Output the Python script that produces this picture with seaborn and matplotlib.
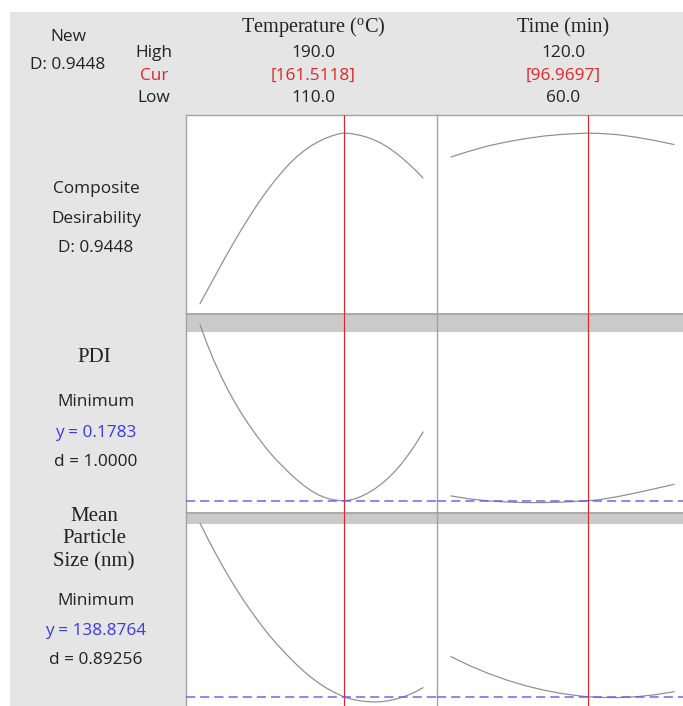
import matplotlib
matplotlib.use("Agg")
import matplotlib.pyplot as plt
from matplotlib.patches import Rectangle
from matplotlib.lines import Line2D
import seaborn as sns

# ---------------- data ----------------
factor_names = ["Temperature ($\\mathregular{^o}$C)", "Time (min)"]
factor_high = [190.0, 120.0]
factor_cur = [161.5118, 96.9697]
factor_low = [110.0, 60.0]

composite_d = 0.9448
pdi_y, pdi_d = 0.1783, 1.0000
size_y, size_d = 138.8764, 0.89256

# response traces along temperature (time held at its current setting)
temp_grid = [110, 112.5, 115, 117.5, 120, 122.5, 125, 127.5, 130, 132.5, 135,
             137.5, 140, 142.5, 145, 147.5, 150, 152.5, 155, 157.5, 160, 161.5118,
             163.25, 165, 167.5, 170, 172.5, 175, 177.5, 180, 182.5, 185, 187.5, 190]
desir_vs_temp = [0.425, 0.464, 0.503, 0.542, 0.580, 0.617, 0.653, 0.687, 0.720,
                 0.751, 0.780, 0.807, 0.832, 0.855, 0.875, 0.892, 0.907, 0.919,
                 0.929, 0.937, 0.943, 0.9448, 0.9442, 0.942, 0.938, 0.932, 0.924,
                 0.914, 0.901, 0.886, 0.869, 0.850, 0.830, 0.808]
pdi_vs_temp = [0.462, 0.4316, 0.404, 0.3795, 0.357, 0.3367, 0.318, 0.301, 0.285,
               0.270, 0.256, 0.2436, 0.232, 0.221, 0.211, 0.2019, 0.194, 0.1877,
               0.183, 0.1800, 0.1786, 0.1783, 0.1790, 0.1805, 0.1845, 0.190,
               0.1968, 0.205, 0.2147, 0.226, 0.2391, 0.254, 0.2707, 0.289]
size_vs_temp = [312.5, 298.6, 285.3, 272.6, 260.4, 248.9, 238.0, 227.7, 218.0,
                208.6, 199.8, 191.7, 184.2, 176.9, 170.1, 163.7, 157.9, 152.7,
                148.1, 144.2, 140.8, 138.8764, 137.3, 136.0, 134.7, 134.0, 133.6,
                133.9, 134.8, 136.3, 138.3, 140.9, 144.1, 147.9]

# response traces along time (temperature held at its current setting)
time_grid = [60, 65, 70, 75, 80, 85, 90, 95, 96.9697, 100, 105, 110, 115, 120]
desir_vs_time = [0.872, 0.890, 0.906, 0.918, 0.928, 0.936, 0.941, 0.944, 0.9448,
                 0.944, 0.940, 0.932, 0.922, 0.910]
pdi_vs_time = [0.186, 0.1812, 0.1780, 0.1762, 0.1752, 0.1752, 0.1760, 0.1776,
               0.1783, 0.1800, 0.1850, 0.1912, 0.1978, 0.2047]
size_vs_time = [178.9, 170.0, 162.2, 155.5, 149.9, 145.4, 141.9, 139.5, 138.8764,
                138.2, 138.0, 138.9, 140.9, 143.9]

# ---------------- style ----------------
sns.set_theme(style="white")
plt.rcParams["font.family"] = ["Open Sans", "DejaVu Sans"]
plt.rcParams["mathtext.fontset"] = "custom"
plt.rcParams["mathtext.rm"] = "Liberation Serif"

W, H = 683, 706
BG = "#E5E5E5"
TXT = "#222222"
RED = "#E0262A"
BLUE = "#3A3AE8"
DASH = "#5C5CF5"
CURVE = "#8C8C8C"
FRAME = "#A3A3A3"
BAND = "#CACACA"

fig = plt.figure(figsize=(W / 100, H / 100), dpi=100)
fig.patch.set_facecolor("white")


def fx(px):
    return px / W


def fy(py):
    return 1 - py / H


fig.add_artist(Rectangle((fx(10), 0), 1, fy(12), transform=fig.transFigure,
                         facecolor=BG, edgecolor="none", zorder=0))

SANS = dict(family=["Open Sans", "DejaVu Sans"], size=12.4, color=TXT)
SERIF = dict(family=["Liberation Serif", "DejaVu Serif"], size=15, color=TXT)


def label(x, y, s, **kw):
    props = dict(SANS)
    props.update(kw)
    fig.text(fx(x), fy(y), s, ha="center", va="baseline", **props)


# ---------------- header ----------------
label(68, 40.7, "New")
label(68, 69, f"D: {composite_d:.4f}")
label(154, 56.7, "High")
label(154, 80, "Cur", color=RED)
label(154, 102.3, "Low")

col_centers = [313, 563]
for cx, name, hi, cur, lo in zip(col_centers, factor_names, factor_high,
                                 factor_cur, factor_low):
    hdr = dict(SERIF)
    hdr["size"] = 14.6
    label(cx, 32, name, **hdr)
    label(cx, 56.7, f"{hi:.1f}")
    label(cx, 80, f"[{cur:.4f}]", color=RED)
    label(cx, 102.3, f"{lo:.1f}")

# ---------------- row labels ----------------
LX = 96
label(LX, 192.7, "Composite")
label(LX, 222.7, "Desirability")
label(LX, 252.3, f"D: {composite_d:.4f}")

label(LX - 2, 361.7, "PDI", **SERIF)
label(LX, 406, "Minimum")
label(LX, 436.7, f"y = {pdi_y:.4f}", color=BLUE)
label(LX, 465.7, f"d = {pdi_d:.4f}")

label(LX - 2, 520.7, "Mean", **SERIF)
label(LX - 2, 542.7, "Particle", **SERIF)
label(LX - 2, 566.7, "Size (nm)", **SERIF)
label(LX, 605, "Minimum")
label(LX, 635, f"y = {size_y:.4f}", color=BLUE)
label(LX, 664, f"d = {size_d:.5f}")

# ---------------- panels ----------------
col_px = [(186, 437), (437, 688)]
row_px = [(115, 313), (313, 512), (512, 712)]
band_px = [None, 332, 524]
xlims = [(105, 195), (56.25, 123.75)]
ylims = [(0.3969, 1.0), (0.1601, 0.4806), (123.58, 323.58)]

grids = [temp_grid, time_grid]
traces = [[desir_vs_temp, desir_vs_time],
          [pdi_vs_temp, pdi_vs_time],
          [size_vs_temp, size_vs_time]]
targets = [None, pdi_y, size_y]

for r, (top, bot) in enumerate(row_px):
    for c, (left, right) in enumerate(col_px):
        ax = fig.add_axes([fx(left), fy(bot), (right - left) / W, (bot - top) / H])
        ax.set_facecolor("white")
        for s in ax.spines.values():
            s.set_visible(False)
        ax.spines["left"].set_visible(True)
        ax.spines["left"].set_color(FRAME)
        ax.spines["left"].set_linewidth(1.0)
        if r == 0:
            ax.spines["top"].set_visible(True)
            ax.spines["top"].set_color(FRAME)
            ax.spines["top"].set_linewidth(1.0)
        if band_px[r] is not None:
            frac = (bot - band_px[r]) / (bot - top)
            ax.add_patch(Rectangle((0, frac), 1, 1 - frac, transform=ax.transAxes,
                                   facecolor=BAND, edgecolor="none", zorder=0.5))
            ax.add_line(Line2D([0, 1], [0.995, 0.995], transform=ax.transAxes,
                               color="#ABABAB", lw=1.6, zorder=0.6))

        sns.lineplot(x=grids[c], y=traces[r][c], ax=ax, color=CURVE,
                     lw=0.85, zorder=3)
        ax.axvline(factor_cur[c], color=RED, lw=0.85, zorder=4)
        if targets[r] is not None:
            ax.axhline(targets[r], color=DASH, lw=1.2, alpha=0.85,
                       dashes=(5.5, 3.0), zorder=5)
        ax.set_xlim(*xlims[c])
        ax.set_ylim(*ylims[r])
        ax.set_xticks([])
        ax.set_yticks([])
        ax.set_xlabel("")
        ax.set_ylabel("")

fig.savefig("out.png", dpi=100, facecolor=fig.get_facecolor())
